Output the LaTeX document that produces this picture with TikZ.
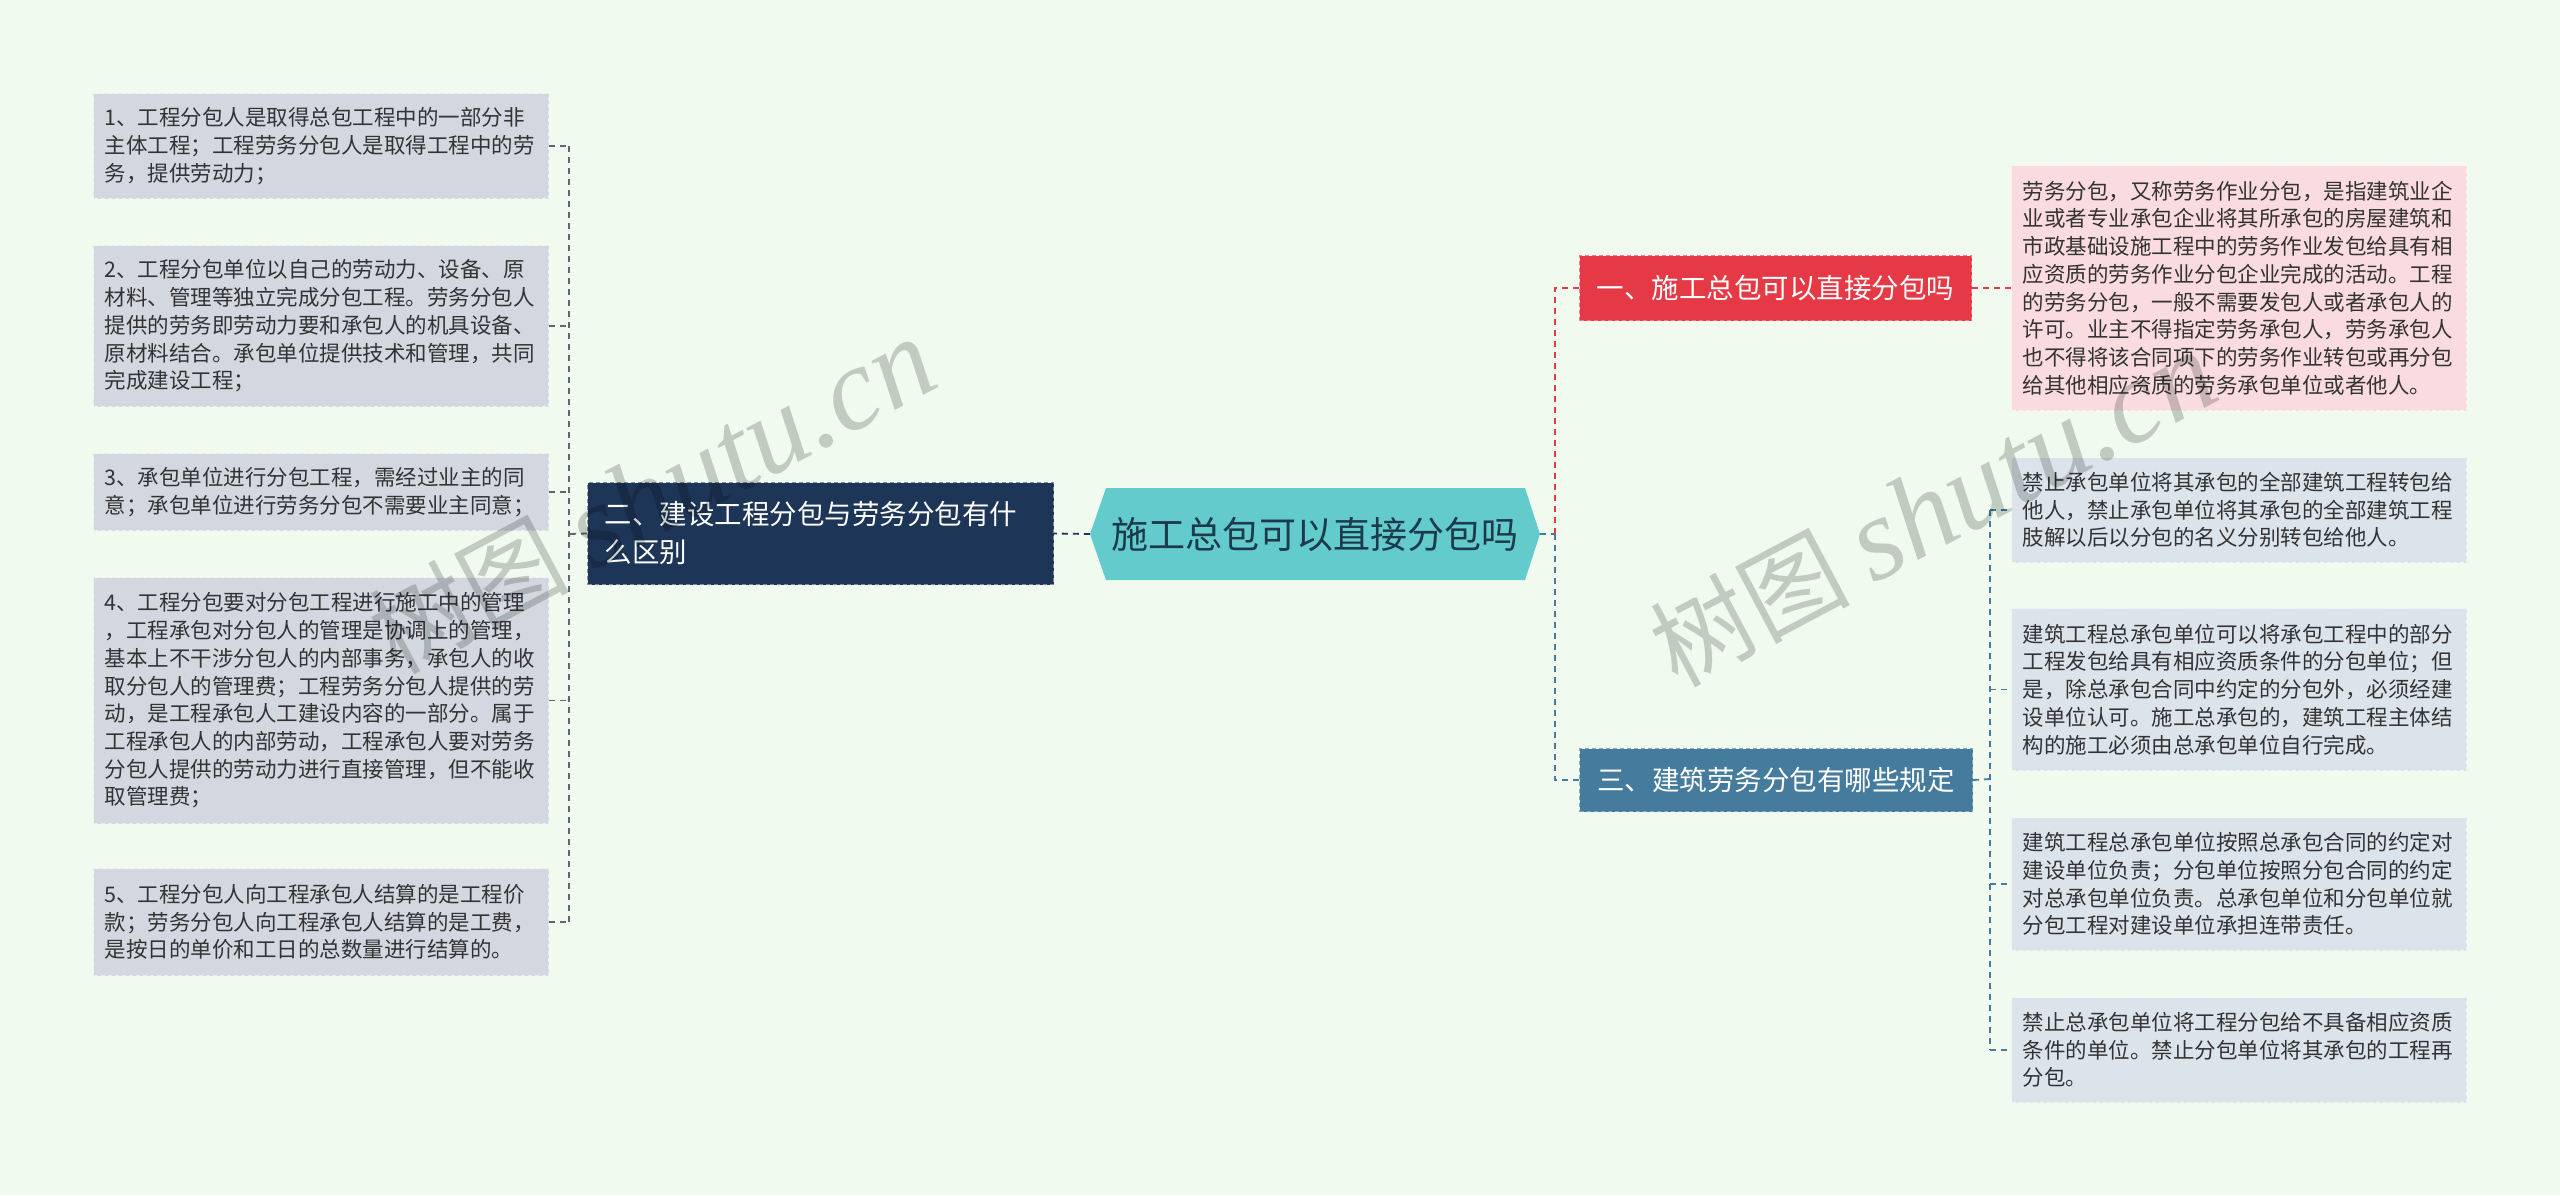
\documentclass[tikz,border=0pt]{standalone}
\usepackage{fontspec}
\setmainfont{Noto Sans CJK SC}
\newfontfamily\wmserif{Liberation Serif}
\definecolor{bgc}{HTML}{F1FAEE}
\definecolor{lboxc}{HTML}{D3D8E0}
\definecolor{rboxc}{HTML}{DCE4EB}
\definecolor{pinkc}{HTML}{FADBDF}
\definecolor{navyc}{HTML}{1D3557}
\definecolor{redc}{HTML}{E63946}
\definecolor{bluec}{HTML}{457B9D}
\definecolor{tealc}{HTML}{64CBCC}
\definecolor{txtc}{HTML}{333333}
\definecolor{ctxt}{HTML}{1B3A4B}
\definecolor{greyln}{HTML}{5C6670}
\definecolor{wmc}{HTML}{CDD1CE}
\begin{document}
\begin{tikzpicture}[x=1pt,y=-1pt,
  leaf/.style={anchor=north west, draw=#1, dash pattern=on 4pt off 3pt, line width=1pt,
    inner xsep=11pt, inner ysep=0pt, text width=433pt, align=left,
    font=\fontsize{21.5}{27.7}\selectfont, text=txtc},
  lbox/.style={leaf=white!55!lboxc, fill=lboxc, minimum height=#1},
  rbox/.style={leaf=white!55!rboxc, fill=rboxc, minimum height=#1},
  pbox/.style={leaf=white!55!pinkc, fill=pinkc, minimum height=#1},
  topic/.style={anchor=north west, dash pattern=on 4pt off 3pt, line width=1pt, text=white,
    font=\fontsize{27.5}{38}\selectfont, inner sep=0pt},
  conn/.style={dash pattern=on 6pt off 5pt, line width=1.8pt},
  wm/.style={text=wmc, blend mode=multiply, font=\fontsize{100}{100}\selectfont, rotate=28}
]
\useasboundingbox[fill=bgc] (0,0) rectangle (2560,1195);

% left leaves
\node[lbox=105pt] (L1) at (93,93) {1、工程分包人是取得总包工程中的一部分非\\主体工程；工程劳务分包人是取得工程中的劳\\务，提供劳动力；};
\node[lbox=161pt] (L2) at (93,245) {2、工程分包单位以自己的劳动力、设备、原\\材料、管理等独立完成分包工程。劳务分包人\\提供的劳务即劳动力要和承包人的机具设备、\\原材料结合。承包单位提供技术和管理，共同\\完成建设工程；};
\node[lbox=77pt] (L3) at (93,453) {3、承包单位进行分包工程，需经过业主的同\\意；承包单位进行劳务分包不需要业主同意；};
\node[lbox=246pt] (L4) at (93,577) {4、工程分包要对分包工程进行施工中的管理\\，工程承包对分包人的管理是协调上的管理，\\基本上不干涉分包人的内部事务，承包人的收\\取分包人的管理费；工程劳务分包人提供的劳\\动，是工程承包人工建设内容的一部分。属于\\工程承包人的内部劳动，工程承包人要对劳务\\分包人提供的劳动力进行直接管理，但不能收\\取管理费；};
\node[lbox=107pt] (L5) at (93,868) {5、工程分包人向工程承包人结算的是工程价\\款；劳务分包人向工程承包人结算的是工费，\\是按日的单价和工日的总数量进行结算的。};

% left topic
\node[topic, fill=navyc, draw=white!45!navyc, minimum width=466pt, minimum height=102pt,
  text width=432pt, inner xsep=17pt, align=left] (T2) at (587,482)
  {二、建设工程分包与劳务分包有什\\么区别};

% central
\fill[tealc] (1090,534) -- (1106,488) -- (1525,488) -- (1540,534) -- (1525,580) -- (1106,580) -- cycle;
\node[minimum width=450pt, minimum height=92pt, inner sep=0pt, text=ctxt,
  font=\fontsize{37}{40}\selectfont] (C) at (1315,534) {施工总包可以直接分包吗};

% right topics
\node[topic, fill=redc, draw=white!35!redc, minimum width=392pt, minimum height=65pt] (T1) at (1579,255)
  {一、施工总包可以直接分包吗};
\node[topic, fill=bluec, draw=white!35!bluec, minimum width=393pt, minimum height=63pt] (T3) at (1579,748)
  {三、建筑劳务分包有哪些规定};

% right leaves
\node[pbox=245pt] (P1) at (2011,165) {劳务分包，又称劳务作业分包，是指建筑业企\\业或者专业承包企业将其所承包的房屋建筑和\\市政基础设施工程中的劳务作业发包给具有相\\应资质的劳务作业分包企业完成的活动。工程\\的劳务分包，一般不需要发包人或者承包人的\\许可。业主不得指定劳务承包人，劳务承包人\\也不得将该合同项下的劳务作业转包或再分包\\给其他相应资质的劳务承包单位或者他人。};
\node[rbox=105pt] (R1) at (2011,457) {禁止承包单位将其承包的全部建筑工程转包给\\他人，禁止承包单位将其承包的全部建筑工程\\肢解以后以分包的名义分别转包给他人。};
\node[rbox=162pt] (R2) at (2011,608) {建筑工程总承包单位可以将承包工程中的部分\\工程发包给具有相应资质条件的分包单位；但\\是，除总承包合同中约定的分包外，必须经建\\设单位认可。施工总承包的，建筑工程主体结\\构的施工必须由总承包单位自行完成。};
\node[rbox=133pt] (R3) at (2011,817) {建筑工程总承包单位按照总承包合同的约定对\\建设单位负责；分包单位按照分包合同的约定\\对总承包单位负责。总承包单位和分包单位就\\分包工程对建设单位承担连带责任。};
\node[rbox=105pt] (R4) at (2011,997) {禁止总承包单位将工程分包给不具备相应资质\\条件的单位。禁止分包单位将其承包的工程再\\分包。};

% junction coordinates
\coordinate (lx) at (569,534);
\coordinate (rx) at (1555,534);
\coordinate (bx) at (1990,779);

% connectors
\draw[conn, navyc] (C.west) -- (T2.east);
\draw[conn, greyln] (T2.west) -- (lx);
\draw[conn, greyln] (L1.east -| lx) -- (L5.east -| lx);
\foreach \n in {L1,L2,L3,L4,L5} \draw[conn, greyln] (\n.east) -- (\n.east -| lx);

\draw[conn, bluec] (C.east) -- (rx);
\draw[conn, redc] (rx) |- (T1.west);
\draw[conn, bluec] (rx) |- (T3.west);
\draw[conn, redc] (T1.east) -- (P1.west);

\draw[conn, bluec] (T3.east) -- (bx);
\draw[conn, bluec] (R1.west -| bx) -- (R4.west -| bx);
\foreach \n in {R1,R2,R3,R4} \draw[conn, bluec] (\n.west -| bx) -- (\n.west);

% watermarks
\node[wm] (W1) at (652,497) {树图 {\wmserif\itshape\fontsize{118}{118}\selectfont shutu.cn}};
\node[wm] (W2) at (1933,510) {树图 {\wmserif\itshape\fontsize{118}{118}\selectfont shutu.cn}};
\end{tikzpicture}
\end{document}
